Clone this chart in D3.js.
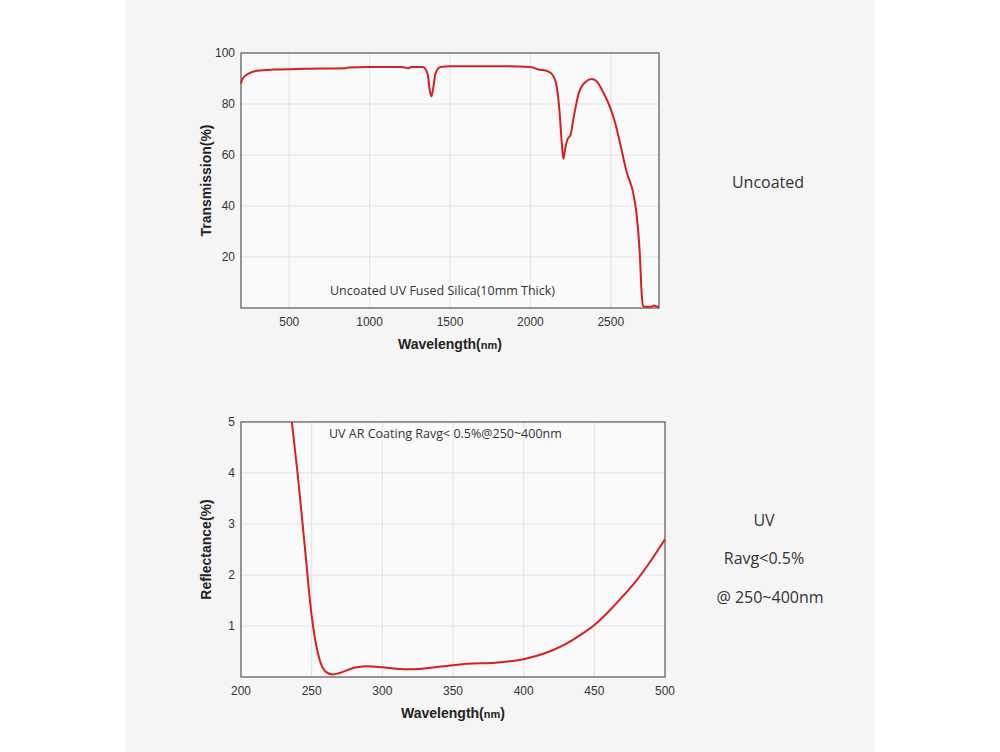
<!DOCTYPE html>
<html><head><meta charset="utf-8">
<script src="https://cdn.jsdelivr.net/npm/d3@7"></script>
<style>
body{margin:0;background:#fff;font-family:"Open Sans",sans-serif}
</style></head><body>
<svg id="chart" width="1000" height="752"></svg>
<script>
// Transmission of uncoated UV fused silica
var transWl = [200,210,250,300,400,600,850,870,1000,1200,1240,1260,1330,1360,1375,1385,1395,1410,1440,1500,1800,2000,2050,2100,2130,2160,2180,2195,2205,2215,2230,2250,2270,2300,2340,2380,2410,2450,2500,2530,2560,2600,2640,2660,2680,2692,2700,2710,2750,2770,2790,2800];
var transVal = [88,90,92,93,93.5,93.8,94,94.3,94.5,94.5,94,94.5,94.5,92,85,83,86,92,94.5,94.8,94.8,94.5,93.5,93,92,88,78,65,58.5,62,66,68,75,84,88.5,89.8,89,85,78,72,64,53,45,37,22,6,1,0.5,0.5,1,0.5,0.5];
var transTicksX = [500,1000,1500,2000,2500];
var transTicksY = [20,40,60,80,100];

// Reflectance of UV AR coating
var reflWl = [236,240,245,250,255,260,265,270,280,288,300,310,320,340,360,380,400,410,420,430,440,450,460,470,480,490,500];
var reflVal = [5,4,2.6,1.2,0.4,0.1,0.05,0.08,0.18,0.21,0.19,0.16,0.15,0.2,0.26,0.28,0.35,0.42,0.52,0.65,0.82,1.02,1.28,1.58,1.9,2.28,2.7];
var reflTicksX = [200,250,300,350,400,450,500];
var reflTicksY = [1,2,3,4,5];

var svg = d3.select("#chart");
svg.append("rect").attr("x",125).attr("y",0).attr("width",750).attr("height",752).attr("fill","#f5f5f5");

function drawPanel(o) {
    var x = d3.scaleLinear().domain(o.xd).range([o.left, o.right]);
    var y = d3.scaleLinear().domain(o.yd).range([o.bottom, o.top]);
    var g = svg.append("g");
    g.append("rect").attr("x",o.left).attr("y",o.top).attr("width",o.right-o.left).attr("height",o.bottom-o.top).attr("fill","#fafafa");
    // grid
    g.selectAll(".gx").data(o.tx.filter(function(d){return d>o.xd[0]&&d<o.xd[1]})).enter().append("line")
        .attr("x1",d=>x(d)).attr("x2",d=>x(d)).attr("y1",o.top).attr("y2",o.bottom).attr("stroke","#e2e2e2");
    g.selectAll(".gy").data(o.ty.filter(function(d){return d<o.yd[1]})).enter().append("line")
        .attr("y1",d=>y(d)).attr("y2",d=>y(d)).attr("x1",o.left).attr("x2",o.right).attr("stroke","#e2e2e2");
    g.append("rect").attr("x",o.left).attr("y",o.top).attr("width",o.right-o.left).attr("height",o.bottom-o.top)
        .attr("fill","none").attr("stroke","#555").attr("stroke-width",1.2);
    // tick labels
    g.selectAll(".lx").data(o.tx).enter().append("text").attr("x",d=>x(d)).attr("y",o.bottom+18)
        .attr("text-anchor","middle").attr("font-family","Liberation Sans").attr("font-size",12).attr("fill","#333").text(d=>d);
    g.selectAll(".ly").data(o.ty).enter().append("text").attr("x",o.left-6).attr("y",d=>y(d)+4)
        .attr("text-anchor","end").attr("font-family","Liberation Sans").attr("font-size",12).attr("fill","#333").text(d=>d);
    var line = d3.line().x(d=>x(d[0])).y(d=>y(d[1])).curve(d3.curveMonotoneX);
    g.append("path").datum(d3.zip(o.wl,o.val)).attr("d",line).attr("fill","none")
        .attr("stroke","#d81e1e").attr("stroke-width",2);
    // axis titles
    var xt = g.append("text").attr("x",(o.left+o.right)/2).attr("y",o.bottom+41).attr("text-anchor","middle")
        .attr("font-family","Liberation Sans").attr("font-weight","bold").attr("font-size",14).attr("fill","#222");
    xt.append("tspan").text("Wavelength(");
    xt.append("tspan").attr("font-size",11).text("nm");
    xt.append("tspan").text(")");
    g.append("text").attr("transform","translate("+(o.left-30)+","+((o.top+o.bottom)/2)+") rotate(-90)")
        .attr("text-anchor","middle").attr("font-family","Liberation Sans").attr("font-weight","bold").attr("font-size",14).attr("fill","#222").text(o.ytitle);
    g.append("text").attr("x",o.noteX).attr("y",o.noteY).attr("font-size",12.5).attr("fill","#333").text(o.note);
}

drawPanel({xd:[200,2800], yd:[0,100], left:241, right:659, top:53, bottom:308,
    tx:transTicksX, ty:transTicksY, wl:transWl, val:transVal, ytitle:"Transmission(%)",
    note:"Uncoated UV Fused Silica(10mm Thick)", noteX:330, noteY:295});
drawPanel({xd:[200,500], yd:[0,5], left:241, right:665, top:422, bottom:677,
    tx:reflTicksX, ty:reflTicksY, wl:reflWl, val:reflVal, ytitle:"Reflectance(%)",
    note:"UV AR Coating Ravg< 0.5%@250~400nm", noteX:329, noteY:438});

var side = [["Uncoated",768,188],["UV",764,526],["Ravg<0.5%",764,564],["@ 250~400nm",770,603]];
svg.selectAll(".side").data(side).enter().append("text").attr("x",d=>d[1]).attr("y",d=>d[2])
    .attr("text-anchor","middle").attr("font-size",16).attr("fill","#333").text(d=>d[0]);
</script></body></html>
